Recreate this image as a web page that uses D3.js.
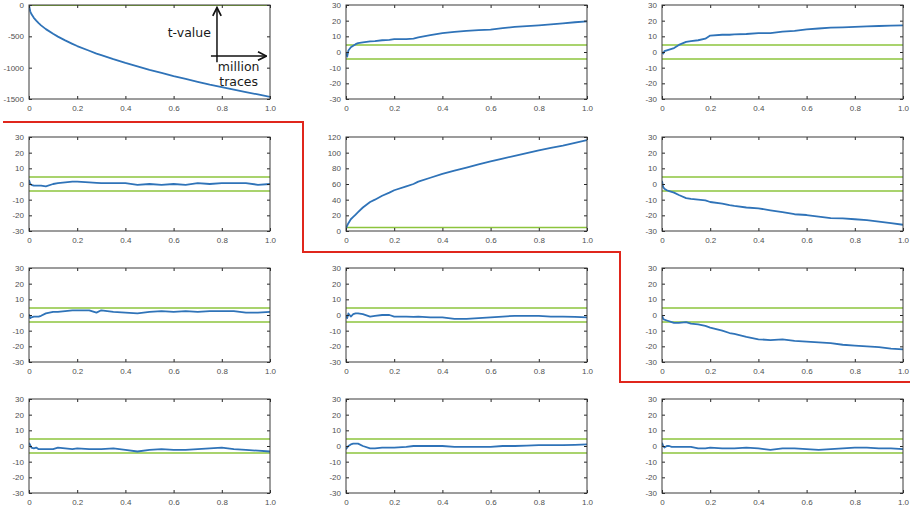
<!DOCTYPE html>
<html>
<head>
<meta charset="utf-8">
<script src="https://cdn.jsdelivr.net/npm/d3@7"></script>
<style>
body { margin: 0; background: #fff; }
.tick text { font-family: "Liberation Sans", Arial, sans-serif; font-size: 8px; fill: #505050; }
</style>
</head>
<body>
<div class="grid"></div>
<script>

// million traces (shared x grid for every panel)
var xs = [0, 0.005, 0.01, 0.02, 0.03, 0.04, 0.05, 0.07, 0.1, 0.12, 0.15, 0.18, 0.2, 0.25, 0.28,
	0.3, 0.35, 0.4, 0.45, 0.5, 0.55, 0.6, 0.65, 0.7, 0.75, 0.8, 0.85, 0.9, 0.95, 1.0];

// t-values, one array per panel, row by row
var t1 = [0, -100, -145, -205, -250, -290, -325, -385, -460, -505, -565, -620, -655, -730, -775,
	-800, -865, -925, -980, -1035, -1085, -1135, -1180, -1225, -1270, -1310, -1350, -1390, -1428, -1465];
var t2 = [0, -3, 1, 3, 4, 5, 5.7, 6.2, 6.8, 7, 7.5, 7.8, 8.2, 8.2, 8.6,
	9.3, 10.8, 12, 12.8, 13.5, 14, 14.3, 15.2, 16, 16.5, 17, 17.6, 18.3, 19, 19.5];
var t3 = [0, -1, 0.5, 1, 1.5, 2, 2.5, 4.5, 6.5, 7, 7.5, 8.5, 10.5, 11, 11,
	11.2, 11.5, 12, 12, 13, 13.5, 14.5, 15, 15.5, 15.7, 16, 16.3, 16.6, 16.8, 17];
var t4 = [2.5, 0, -0.5, -1, -1, -1, -1, -1.5, 0, 0.5, 1, 1.5, 1.5, 1, 0.7,
	0.5, 0.5, 0.5, -0.5, 0, -0.5, 0, -0.5, 0.5, 0, 0.5, 0.5, 0.5, -0.5, 0];
var t5 = [3, 7, 10, 15, 18, 21, 24, 30, 37, 40, 45, 49, 52, 57, 60,
	63, 68, 73, 77, 81, 85, 89, 92.5, 96, 99.5, 103, 106, 109, 112.5, 116];
var t6 = [2, -2, -3, -4, -4.5, -5, -5.5, -7, -9, -9.5, -10, -10.5, -11.5, -12.5, -13.5,
	-14, -15, -15.5, -16.8, -18, -19.3, -19.8, -20.8, -21.8, -22, -22.5, -23, -24, -25, -26];
var t7 = [0.5, -2, -1.5, -1, -1, -1, -0.5, 1, 2, 2, 2.5, 3, 3, 3, 1.5,
	3, 2, 1.5, 1, 2, 2.5, 2, 2.5, 2, 2.5, 2.5, 2.5, 1.5, 1.5, 2];
var t8 = [0, -2, 1, -1, 0.5, 1, 1, 0.5, -1, -0.5, 0, 0, -1, -1, -1.2,
	-1, -1.5, -1.5, -2.5, -2.5, -2, -1.5, -1, -0.5, -0.5, -0.5, -1, -1, -1.2, -1.5];
var t9 = [0, -2.5, -3, -3.5, -4, -4.5, -5, -5, -4.5, -5.5, -6, -7, -8, -10, -11.5,
	-12, -14, -15.5, -16, -15.5, -16.5, -17, -17.5, -18, -19, -19.5, -20, -20.5, -21.5, -22];
var t10 = [2, 0.5, -1, -1.5, -1, -2, -2, -2, -2, -1, -1.5, -2, -1.5, -2, -2,
	-2, -1.5, -2.5, -3.5, -2.5, -2, -2.5, -2.5, -2, -1.5, -1, -2, -2.5, -3, -3.5];
var t11 = [-2, -1, 0, 1, 1.5, 1.5, 1.5, 0, -1.5, -1.5, -1, -1, -1, -0.5, 0,
	0, 0, 0, -0.5, -0.5, -0.5, -0.5, 0, 0, 0.2, 0.5, 0.5, 0.5, 0.7, 1];
var t12 = [2, 0, -1, 0, 0, -0.5, -0.5, -0.5, -0.5, -0.5, -1.5, -1.5, -1, -1.5, -1.5,
	-1.5, -1, -1.5, -2.5, -1.5, -1.5, -2, -2.5, -2, -1.5, -1, -1, -1.5, -1.5, -2];

var series = [t1, t2, t3, t4, t5, t6, t7, t8, t9, t10, t11, t12];

// y domains and tick values
var yDomains = [[-1500, 0], [-30, 30], [-30, 30], [-30, 30], [0, 120], [-30, 30],
	[-30, 30], [-30, 30], [-30, 30], [-30, 30], [-30, 30], [-30, 30]];
var yTicks = [[-1500, -1000, -500, 0], null, null, null, [0, 20, 40, 60, 80, 100, 120]];
var defaultYTicks = [-30, -20, -10, 0, 10, 20, 30];
var xTicks = [0, 0.2, 0.4, 0.6, 0.8, 1.0];
var xTickLabels = ['0', '0.2', '0.4', '0.6', '0.8', '1.0'];
var threshold = 4.5;

var width = 912,
	height = 509;
var colLeft = [29, 346, 662],
	rowTop = [5, 137, 268, 399],
	plotW = 241,
	plotH = 94;

var svg = d3.select('.grid').append('svg')
		.attr('width', width)
		.attr('height', height);

function drawPanel(i) {
	var col = i % 3,
		row = Math.floor(i / 3);
	var g = svg.append('g')
		.attr('transform', 'translate(' + colLeft[col] + ',' + rowTop[row] + ')');

	var x = d3.scaleLinear().domain([0, 1]).range([0, plotW]);
	var y = d3.scaleLinear().domain(yDomains[i]).range([plotH, 0]);
	var ticks = yTicks[i] || defaultYTicks;

	g.append('clipPath').attr('id', 'clip' + i)
		.append('rect').attr('width', plotW).attr('height', plotH);

	var inner = g.append('g').attr('clip-path', 'url(#clip' + i + ')');

	// threshold lines
	inner.selectAll('.thr').data([threshold, -threshold]).enter().append('line')
		.attr('class', 'thr')
		.attr('x1', 0).attr('x2', plotW)
		.attr('y1', function(d) { return y(d); })
		.attr('y2', function(d) { return y(d); })
		.attr('stroke', '#8cc43c')
		.attr('stroke-width', 1.6);

	var line = d3.line()
		.x(function(d, k) { return x(xs[k]); })
		.y(function(d) { return y(d); });

	inner.append('path')
		.datum(series[i])
		.attr('d', line)
		.attr('fill', 'none')
		.attr('stroke', '#2f73b8')
		.attr('stroke-width', 1.8)
		.attr('stroke-linejoin', 'round');

	// axes: labels on left/bottom, inward ticks on all sides
	var xAxis = d3.axisBottom(x).tickValues(xTicks)
		.tickFormat(function(d, k) { return xTickLabels[k]; })
		.tickSizeInner(-3).tickSizeOuter(0).tickPadding(6);
	var yAxis = d3.axisLeft(y).tickValues(ticks)
		.tickFormat(function(d) { return String(d); })
		.tickSizeInner(-3).tickSizeOuter(0).tickPadding(5);

	g.append('g').attr('transform', 'translate(0,' + plotH + ')').call(xAxis);
	g.append('g').call(yAxis);
	g.append('g').call(d3.axisTop(x).tickValues(xTicks).tickFormat('')
		.tickSizeInner(-3).tickSizeOuter(0));
	g.append('g').attr('transform', 'translate(' + plotW + ',0)')
		.call(d3.axisRight(y).tickValues(ticks).tickFormat('')
		.tickSizeInner(-3).tickSizeOuter(0));

	g.selectAll('.domain').remove();
	g.selectAll('.tick line').attr('stroke', '#262626');

	g.append('rect')
		.attr('width', plotW).attr('height', plotH)
		.attr('fill', 'none')
		.attr('stroke', '#3a3a3a')
		.attr('stroke-width', 1);

	return {g: g, x: x, y: y};
}

var panels = [];
for (var i = 0; i < series.length; i++)
	panels.push(drawPanel(i));

// annotation in the first panel
var p = panels[0];
var defs = svg.append('defs');
defs.append('marker')
	.attr('id', 'head')
	.attr('viewBox', '0 0 10 10')
	.attr('refX', 9).attr('refY', 5)
	.attr('markerWidth', 7).attr('markerHeight', 7)
	.attr('orient', 'auto')
	.append('path')
	.attr('d', 'M1,1 L9,5 L1,9')
	.attr('fill', 'none')
	.attr('stroke', '#111')
	.attr('stroke-width', 1.6);

p.g.append('line')
	.attr('x1', p.x(0.78)).attr('y1', p.y(-915))
	.attr('x2', p.x(0.78)).attr('y2', p.y(-40))
	.attr('stroke', '#111').attr('stroke-width', 1.5)
	.attr('marker-end', 'url(#head)');
p.g.append('line')
	.attr('x1', p.x(0.755)).attr('y1', p.y(-815))
	.attr('x2', p.x(0.985)).attr('y2', p.y(-815))
	.attr('stroke', '#111').attr('stroke-width', 1.5)
	.attr('marker-end', 'url(#head)');

var label = p.g.append('g')
	.attr('font-family', '"DejaVu Sans", sans-serif')
	.attr('font-size', '12.5px')
	.attr('fill', '#1a1a1a');
label.append('text').attr('x', p.x(0.755)).attr('y', p.y(-510))
	.attr('text-anchor', 'end').text('t-value');
label.append('text').attr('x', p.x(0.87)).attr('y', p.y(-1055))
	.attr('text-anchor', 'middle').text('million');
label.append('text').attr('x', p.x(0.87)).attr('y', p.y(-1295))
	.attr('text-anchor', 'middle').text('traces');

// red separator between panel groups
svg.append('path')
	.attr('d', 'M3,122 H303 V252 H620 V382 H910')
	.attr('fill', 'none')
	.attr('stroke', '#e0261c')
	.attr('stroke-width', 2);

</script>
</body>
</html>
